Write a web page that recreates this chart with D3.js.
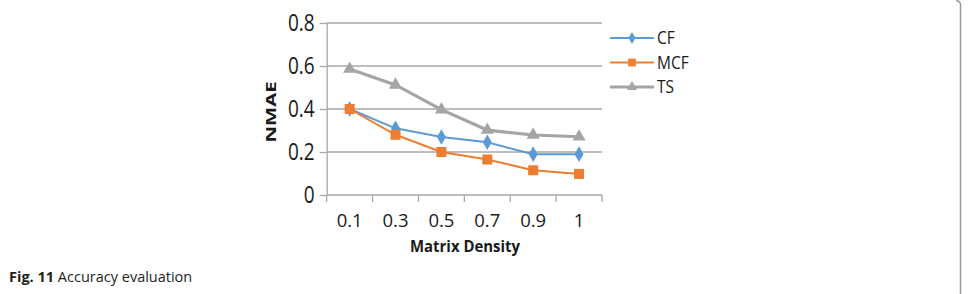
<!DOCTYPE html>
<html>
<head>
<meta charset="utf-8">
<script src="https://cdn.jsdelivr.net/npm/d3@7"></script>
<style>
  body { margin: 0; background: #fff; }
  text { font-family: "Open Sans", sans-serif; fill: #1a1a1a; }
</style>
</head>
<body>
<script>
const densities = ['0.1', '0.3', '0.5', '0.7', '0.9', '1'];
const cf  = [0.40, 0.31, 0.27, 0.245, 0.19, 0.19];
const mcf = [0.40, 0.28, 0.20, 0.165, 0.115, 0.098];
const ts  = [0.586, 0.512, 0.397, 0.302, 0.279, 0.271];
const yTicks = [0, 0.2, 0.4, 0.6, 0.8];

const series = [
  { name: 'CF', values: cf, color: '#5b9bd5', width: 2, symbol: d3.symbolDiamond, size: 70 },
  { name: 'MCF', values: mcf, color: '#ed7d31', width: 2, symbol: d3.symbolSquare, size: 100 },
  { name: 'TS', values: ts, color: '#a5a5a5', width: 3.2, symbol: d3.symbolTriangle, size: 75 }
];

const W = 968, H = 294;
const plot = { left: 326.7, right: 602, top: 23, bottom: 195 };

const svg = d3.select('body').append('svg')
  .attr('width', W)
  .attr('height', H);

const x = d3.scaleBand()
  .domain(densities)
  .range([plot.left, plot.right]);

const y = d3.scaleLinear()
  .domain([0, 0.8])
  .range([plot.bottom, plot.top]);

// gridlines
svg.append('g')
  .selectAll('line')
  .data(yTicks.filter(d => d > 0))
  .enter().append('line')
  .attr('x1', plot.left)
  .attr('x2', plot.right)
  .attr('y1', d => y(d))
  .attr('y2', d => y(d))
  .attr('stroke', '#a8a8a8')
  .attr('stroke-width', 1.3);

// y axis
const yAxis = svg.append('g')
  .attr('transform', `translate(${plot.left},0)`)
  .call(d3.axisLeft(y).tickValues(yTicks).tickFormat(d3.format('')).tickSizeInner(7).tickSizeOuter(0).tickPadding(5));
yAxis.select('.domain').attr('stroke', '#a8a8a8').attr('stroke-width', 1.3);
yAxis.selectAll('.tick line').attr('stroke', '#a8a8a8').attr('stroke-width', 1.3);
yAxis.selectAll('.tick text')
  .attr('font-size', 19)
  .attr('font-family', '"Open Sans", sans-serif')
  .attr('fill', '#1a1a1a')
  .attr('transform', 'scale(1,1.23)');

// x axis
const xAxis = svg.append('g')
  .attr('transform', `translate(0,${plot.bottom})`)
  .call(d3.axisBottom(x).tickSize(0).tickPadding(0));
xAxis.select('.domain').remove();
xAxis.append('line')
  .attr('x1', plot.left).attr('x2', plot.right)
  .attr('stroke', '#a8a8a8').attr('stroke-width', 1.3);
xAxis.selectAll('.bound')
  .data(densities.concat(['end']))
  .enter().append('line')
  .attr('x1', (d, i) => i < densities.length ? x(d) : plot.right)
  .attr('x2', (d, i) => i < densities.length ? x(d) : plot.right)
  .attr('y1', 0).attr('y2', 7)
  .attr('stroke', '#a8a8a8').attr('stroke-width', 1.3);
xAxis.selectAll('.tick text')
  .attr('font-size', 18.5)
  .attr('font-family', '"Open Sans", sans-serif')
  .attr('fill', '#1a1a1a')
  .attr('dy', 0)
  .attr('y', 32);

// axis titles
svg.append('text')
  .attr('x', 465)
  .attr('y', 252)
  .attr('text-anchor', 'middle')
  .attr('font-size', 16.5)
  .attr('font-weight', 'bold')
  .attr('textLength', 110)
  .attr('lengthAdjust', 'spacingAndGlyphs')
  .text('Matrix Density');

svg.append('text')
  .attr('transform', 'translate(276,112) rotate(-90)')
  .attr('text-anchor', 'middle')
  .attr('font-size', 15)
  .attr('font-weight', 'bold')
  .attr('textLength', 61)
  .attr('lengthAdjust', 'spacingAndGlyphs')
  .text('NMAE');

// lines and markers
const line = d3.line()
  .x((d, i) => x(densities[i]) + x.bandwidth() / 2)
  .y(d => y(d));

series.forEach(s => {
  svg.append('path')
    .datum(s.values)
    .attr('d', line)
    .attr('fill', 'none')
    .attr('stroke', s.color)
    .attr('stroke-width', s.width);
  svg.append('g')
    .selectAll('path')
    .data(s.values)
    .enter().append('path')
    .attr('transform', (d, i) => `translate(${x(densities[i]) + x.bandwidth() / 2},${y(d)})`)
    .attr('d', d3.symbol().type(s.symbol).size(s.size))
    .attr('fill', s.color);
});

// legend
const legend = svg.append('g');
series.forEach((s, i) => {
  const ly = 38 + i * 24.5;
  legend.append('line')
    .attr('x1', 610).attr('x2', 654)
    .attr('y1', ly).attr('y2', ly)
    .attr('stroke', s.color)
    .attr('stroke-width', s.width);
  legend.append('path')
    .attr('transform', `translate(632,${ly})`)
    .attr('d', d3.symbol().type(s.symbol).size(s.size * 0.6))
    .attr('fill', s.color);
  legend.append('text')
    .attr('transform', `translate(657,${ly}) scale(1,1.15)`)
    .attr('dy', '0.35em')
    .attr('font-size', 15.5)
    .text(s.name);
});

// caption
const cap = svg.append('text')
  .attr('x', 9)
  .attr('y', 282)
  .attr('font-size', 14.5)
  .style('fill', '#231f20');
cap.append('tspan').attr('font-weight', 'bold').text('Fig. 11');
cap.append('tspan').text(' Accuracy evaluation');

// page border on the right
svg.append('path')
  .attr('d', 'M956,0.8 Q960.5,0.8 960.5,5 L960.5,294')
  .attr('fill', 'none')
  .attr('stroke', '#999')
  .attr('stroke-width', 1.5);
</script>
</body>
</html>
